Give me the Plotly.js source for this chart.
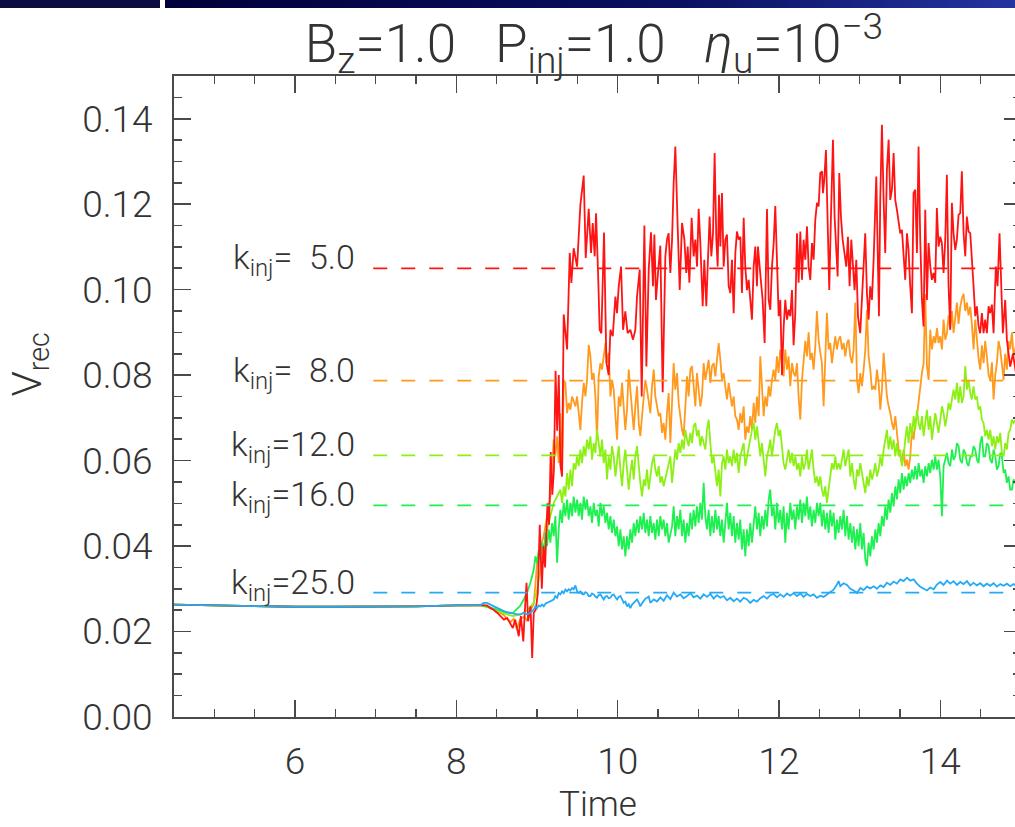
<!DOCTYPE html>
<html>
<head>
<meta charset="utf-8">
<script src="https://cdn.plot.ly/plotly-3.0.1.min.js"></script>
<style>
html,body{margin:0;padding:0;background:#fff;overflow:hidden;width:1015px;height:827px;}
#chart{position:absolute;left:0;top:0;width:1022px;height:827px;}
#barL{position:absolute;left:0;top:0;width:160px;height:8px;background:#0c0c42;z-index:5;}
#barR{position:absolute;left:165px;top:0;width:850px;height:8px;background:linear-gradient(to right,#00003a,#0a1060 60%,#2434a0);z-index:5;}
</style>
</head>
<body>
<div id="chart"></div>
<div id="barL"></div><div id="barR"></div>
<script>
// ---- data ----
const baseT = [4.5,5.0,5.5,6.0,6.5,7.0,7.5,8.0,8.3];
const baseV = [0.0263,0.0261,0.0259,0.0258,0.0258,0.0258,0.0259,0.0261,0.0262];

const redT = [8.38,8.42,8.46,8.505,8.547,8.59,8.63,8.67,8.70,8.73,
8.774,8.80,8.83,8.85,8.87,8.89,8.92,8.94,8.96,8.985,
9.01,9.034,9.06,9.08,9.10,9.13,9.15,9.17,9.19,9.21,
9.23,9.25,9.27,9.29,9.31,9.331,9.373,9.406,9.426,9.455,
9.497,9.538,9.579,9.604,9.641,9.670,9.691,9.715,9.732,9.757,
9.777,9.798,9.831,9.860,9.889,9.910,9.939,9.972,9.992,10.013,
10.042,10.067,10.095,10.124,10.157,10.190,10.219,10.240,10.273,10.298,
10.331,10.356,10.385,10.413,10.438,10.455,10.475,10.500,10.529,10.558,
10.591,10.612,10.632,10.653,10.674,10.694,10.715,10.744,10.769,10.798,
10.827,10.851,10.868,10.889,10.917,10.942,10.963,10.984,11.004,11.025,
11.054,11.074,11.099,11.116,11.140,11.161,11.182,11.202,11.223,11.240,
11.256,11.273,11.293,11.314,11.335,11.355,11.376,11.397,11.417,11.438,
11.459,11.479,11.500,11.521,11.541,11.562,11.582,11.603,11.624,11.644,
11.665,11.686,11.706,11.727,11.739,11.760,11.781,11.797,11.822,11.851,
11.872,11.892,11.913,11.934,11.954,11.975,11.996,12.016,12.037,12.058,
12.078,12.099,12.119,12.140,12.161,12.181,12.202,12.223,12.243,12.264,
12.285,12.305,12.326,12.347,12.367,12.388,12.409,12.429,12.450,12.471,
12.491,12.512,12.533,12.545,12.561,12.582,12.603,12.623,12.644,12.669,
12.689,12.710,12.727,12.747,12.768,12.789,12.809,12.834,12.855,12.875,
12.896,12.917,12.937,12.958,12.979,13.007,13.028,13.049,13.069,13.090,
13.111,13.131,13.152,13.173,13.193,13.206,13.222,13.239,13.255,13.276,
13.297,13.317,13.338,13.359,13.379,13.400,13.421,13.441,13.462,13.482,
13.503,13.524,13.544,13.565,13.586,13.606,13.627,13.648,13.668,13.689,
13.710,13.730,13.751,13.772,13.792,13.813,13.834,13.854,13.875,13.895,
13.916,13.937,13.957,13.978,13.999,14.019,14.040,14.061,14.081,14.102,
14.123,14.143,14.164,14.185,14.205,14.226,14.247,14.267,14.288,14.309,
14.329,14.350,14.371,14.391,14.412,14.433,14.453,14.474,14.494,14.515,
14.536,14.556,14.577,14.598,14.618,14.639,14.660,14.688,14.709,14.734,
14.755,14.775,14.804,14.825,14.866,14.90,14.95,15.0];
const redV = [0.0261,0.0255,0.0251,0.0244,0.0236,0.0228,0.0232,0.0216,0.0208,0.0228,
0.0189,0.0236,0.0177,0.0251,0.0314,0.0224,0.0259,0.0138,0.0244,0.0251,
0.0290,0.0450,0.0300,0.0400,0.0350,0.0500,0.0450,0.0620,0.0520,0.0580,
0.0810,0.0670,0.0800,0.0590,0.0563,0.0942,0.0860,0.1086,0.1016,0.1097,
0.1054,0.1199,0.1267,0.1074,0.1189,0.1086,0.1156,0.1078,0.1179,0.1039,
0.0906,0.0898,0.1134,0.0830,0.0800,0.0906,0.0891,0.0984,0.0945,0.1008,
0.1054,0.0906,0.0949,0.0898,0.0906,0.0883,0.0906,0.0984,0.1047,0.0750,
0.1150,0.0820,0.1047,0.1134,0.1008,0.1129,0.0976,0.1039,0.1103,0.0760,
0.1078,0.1118,0.1132,0.1039,0.1117,0.1249,0.1335,0.1148,0.0999,0.1156,
0.1117,0.1039,0.1101,0.1016,0.1168,0.1078,0.1117,0.1054,0.1189,0.1109,
0.0961,0.1070,0.0961,0.1054,0.1171,0.1078,0.1132,0.1320,0.1117,0.1054,
0.1222,0.1101,0.1226,0.1054,0.1117,0.1129,0.1008,0.0992,0.1070,0.0945,
0.1086,0.1136,0.1117,0.1124,0.0992,0.1168,0.1054,0.0999,0.1023,0.0976,
0.0930,0.1054,0.1101,0.1008,0.1101,0.1054,0.1008,0.0976,0.0875,0.1189,
0.0976,0.0953,0.1054,0.1109,0.1196,0.1070,0.0938,0.0976,0.0800,0.0914,
0.0976,0.0930,0.0953,0.0938,0.0999,0.0870,0.0945,0.1132,0.1016,0.1136,
0.1023,0.1117,0.1070,0.1148,0.1054,0.1023,0.1109,0.1070,0.1164,0.1203,
0.1195,0.1273,0.1277,0.1226,0.1257,0.1327,0.1171,0.0999,0.1171,0.1351,
0.1171,0.1070,0.1031,0.1273,0.1171,0.1117,0.1093,0.1054,0.1124,0.1008,
0.1117,0.1039,0.0999,0.1070,0.0938,0.0898,0.0976,0.1039,0.1132,0.0992,
0.0930,0.1008,0.0976,0.1070,0.1226,0.1265,0.1109,0.0938,0.1210,0.1386,
0.1210,0.1086,0.1281,0.1351,0.1210,0.1234,0.1320,0.1210,0.1187,0.1156,
0.1132,0.1140,0.1093,0.1023,0.1132,0.1093,0.1008,0.0945,0.1226,0.1234,
0.1086,0.1335,0.1117,0.0976,0.0914,0.1187,0.0976,0.1109,0.1054,0.1023,
0.1039,0.1016,0.1191,0.1101,0.1124,0.1109,0.1039,0.1117,0.1269,0.1008,
0.0906,0.1203,0.1132,0.1093,0.1117,0.1175,0.1179,0.1277,0.1132,0.1078,
0.1171,0.1136,0.1132,0.1054,0.1008,0.0938,0.0961,0.0914,0.0898,0.0945,
0.0898,0.0930,0.0898,0.0961,0.0945,0.0965,0.0898,0.1054,0.1008,0.1132,
0.1016,0.0898,0.0976,0.0883,0.0820,0.0850,0.0790,0.0800];

const orangeT = [8.34,8.42,8.50,8.59,8.67,8.71,8.75,8.79,8.84,8.88,
8.92,8.96,9.001,9.042,9.083,9.125,9.166,9.187,9.207,9.228,
9.249,9.269,9.290,9.311,9.331,9.352,9.373,9.393,9.414,9.435,
9.455,9.476,9.497,9.517,9.538,9.558,9.579,9.600,9.620,9.641,
9.662,9.682,9.703,9.724,9.744,9.765,9.786,9.806,9.827,9.848,
9.868,9.889,9.910,9.930,9.951,9.972,9.992,10.013,10.034,10.054,
10.075,10.095,10.116,10.137,10.157,10.178,10.199,10.219,10.240,10.261,
10.281,10.302,10.323,10.343,10.364,10.385,10.405,10.426,10.447,10.467,
10.488,10.509,10.529,10.550,10.570,10.591,10.612,10.632,10.653,10.674,
10.694,10.715,10.736,10.756,10.777,10.798,10.818,10.839,10.860,10.880,
10.901,10.921,10.942,10.963,10.983,11.004,11.025,11.045,11.066,11.087,
11.107,11.128,11.149,11.169,11.190,11.211,11.231,11.252,11.273,11.293,
11.314,11.335,11.355,11.376,11.396,11.417,11.438,11.458,11.479,11.500,
11.520,11.541,11.562,11.582,11.603,11.624,11.644,11.665,11.686,11.706,
11.727,11.748,11.768,11.789,11.810,11.830,11.851,11.872,11.892,11.913,
11.933,11.954,11.975,11.995,12.016,12.037,12.057,12.078,12.099,12.119,
12.140,12.161,12.181,12.202,12.223,12.243,12.264,12.285,12.305,12.326,
12.346,12.367,12.388,12.408,12.429,12.450,12.470,12.491,12.512,12.532,
12.553,12.574,12.594,12.615,12.636,12.656,12.677,12.698,12.718,12.739,
12.760,12.781,12.801,12.822,12.843,12.863,12.884,12.905,12.925,12.946,
12.967,12.987,13.008,13.028,13.049,13.070,13.090,13.111,13.132,13.152,
13.173,13.194,13.214,13.235,13.256,13.276,13.297,13.318,13.338,13.359,
13.380,13.400,13.421,13.442,13.462,13.483,13.503,13.524,13.545,13.565,
13.586,13.607,13.627,13.648,13.669,13.689,13.710,13.731,13.751,13.772,
13.793,13.813,13.834,13.855,13.875,13.896,13.917,13.937,13.958,13.978,
13.999,14.020,14.040,14.061,14.082,14.102,14.123,14.144,14.164,14.185,
14.206,14.226,14.247,14.268,14.288,14.309,14.330,14.350,14.371,14.391,
14.412,14.433,14.453,14.474,14.495,14.515,14.536,14.556,14.577,14.598,
14.619,14.640,14.660,14.681,14.701,14.722,14.743,14.763,14.784,14.804,
14.825,14.846,14.866,14.887,14.908,14.95,15.0];
const orangeV = [0.0262,0.0255,0.0248,0.0238,0.0222,0.0230,0.0205,0.0228,0.0235,0.0225,
0.0250,0.0265,0.0360,0.0400,0.0423,0.0470,0.0516,0.0579,0.0649,0.0610,
0.0657,0.0594,0.0711,0.0563,0.0789,0.0782,0.0711,0.0735,0.0719,0.0750,
0.0739,0.0727,0.0750,0.0704,0.0672,0.0735,0.0782,0.0750,0.0789,0.0871,
0.0844,0.0789,0.0805,0.0750,0.0649,0.0797,0.0828,0.0813,0.0844,0.0875,
0.0828,0.0852,0.0750,0.0789,0.0766,0.0704,0.0649,0.0750,0.0727,0.0782,
0.0735,0.0672,0.0719,0.0813,0.0766,0.0719,0.0672,0.0727,0.0774,0.0688,
0.0657,0.0704,0.0750,0.0789,0.0766,0.0735,0.0711,0.0774,0.0813,0.0750,
0.0727,0.0704,0.0711,0.0665,0.0688,0.0649,0.0711,0.0758,0.0641,0.0750,
0.0828,0.0766,0.0805,0.0735,0.0704,0.0672,0.0657,0.0735,0.0797,0.0750,
0.0813,0.0821,0.0782,0.0727,0.0805,0.0766,0.0727,0.0750,0.0828,0.0789,
0.0813,0.0836,0.0782,0.0821,0.0828,0.0797,0.0836,0.0875,0.0836,0.0789,
0.0805,0.0766,0.0743,0.0782,0.0758,0.0727,0.0750,0.0704,0.0696,0.0672,
0.0711,0.0688,0.0727,0.0649,0.0680,0.0665,0.0704,0.0672,0.0735,0.0688,
0.0750,0.0704,0.0844,0.0766,0.0704,0.0750,0.0727,0.0774,0.0750,0.0789,
0.0813,0.0789,0.0844,0.0805,0.0860,0.0828,0.0797,0.0860,0.0813,0.0844,
0.0774,0.0828,0.0805,0.0797,0.0828,0.0750,0.0696,0.0789,0.0828,0.0880,
0.0844,0.0900,0.0836,0.0852,0.0813,0.0867,0.0950,0.0883,0.0852,0.0828,
0.0727,0.0860,0.0946,0.0860,0.0875,0.0828,0.0867,0.0891,0.0860,0.0883,
0.0891,0.0860,0.0875,0.0844,0.0875,0.0883,0.0844,0.0828,0.0860,0.0970,
0.0789,0.0758,0.0805,0.0774,0.0813,0.0860,0.0953,0.0844,0.0813,0.0766,
0.0774,0.0766,0.0813,0.0782,0.0719,0.0766,0.0852,0.0797,0.0750,0.0727,
0.0711,0.0688,0.0672,0.0704,0.0657,0.0626,0.0610,0.0594,0.0626,0.0587,
0.0602,0.0579,0.0610,0.0672,0.0649,0.0688,0.0704,0.0743,0.0774,0.0805,
0.0828,0.0990,0.0821,0.0789,0.0906,0.0860,0.0891,0.0875,0.0910,0.0875,
0.0891,0.0860,0.0930,0.0883,0.0899,0.0940,0.0910,0.0950,0.0899,0.0930,
0.0970,0.0920,0.0960,0.0980,0.0990,0.0950,0.0970,0.0940,0.0960,0.0920,
0.0860,0.0930,0.0875,0.0840,0.0813,0.0870,0.0828,0.0880,0.0844,0.0800,
0.0789,0.0830,0.0743,0.0800,0.0828,0.0880,0.0860,0.0820,0.0789,0.0850,
0.0813,0.0880,0.0860,0.0900,0.0844,0.0880,0.0860];

const ygreenT = [8.40,8.50,8.60,8.70,8.80,8.88,8.960,9.001,9.042,9.083,
9.125,9.166,9.207,9.249,9.290,9.311,9.331,9.352,9.373,9.393,
9.414,9.435,9.455,9.476,9.497,9.517,9.538,9.558,9.579,9.600,
9.620,9.641,9.662,9.682,9.703,9.724,9.744,9.765,9.786,9.806,
9.827,9.848,9.868,9.889,9.910,9.930,9.951,9.972,9.992,10.013,
10.034,10.054,10.075,10.095,10.116,10.137,10.157,10.178,10.199,10.219,
10.240,10.261,10.281,10.302,10.323,10.343,10.364,10.385,10.405,10.426,
10.447,10.467,10.488,10.509,10.529,10.550,10.570,10.591,10.612,10.632,
10.653,10.674,10.694,10.715,10.736,10.756,10.777,10.798,10.818,10.839,
10.860,10.880,10.901,10.921,10.942,10.963,10.983,11.004,11.025,11.045,
11.066,11.087,11.107,11.128,11.149,11.169,11.190,11.211,11.231,11.252,
11.273,11.293,11.314,11.335,11.355,11.376,11.396,11.417,11.438,11.458,
11.479,11.500,11.520,11.541,11.562,11.582,11.603,11.624,11.644,11.665,
11.686,11.706,11.727,11.748,11.768,11.789,11.810,11.830,11.851,11.872,
11.892,11.913,11.933,11.954,11.975,11.995,12.016,12.037,12.057,12.078,
12.099,12.119,12.140,12.161,12.181,12.202,12.223,12.243,12.264,12.285,
12.305,12.326,12.346,12.367,12.388,12.408,12.429,12.450,12.470,12.491,
12.512,12.532,12.553,12.574,12.594,12.615,12.636,12.656,12.677,12.698,
12.718,12.739,12.760,12.781,12.801,12.822,12.843,12.863,12.884,12.905,
12.925,12.946,12.967,12.987,13.008,13.028,13.049,13.070,13.090,13.111,
13.132,13.152,13.173,13.194,13.214,13.235,13.256,13.276,13.297,13.318,
13.338,13.359,13.380,13.400,13.421,13.442,13.462,13.483,13.503,13.524,
13.545,13.565,13.586,13.607,13.627,13.648,13.669,13.689,13.710,13.731,
13.751,13.772,13.793,13.813,13.834,13.855,13.875,13.896,13.917,13.937,
13.958,13.978,13.999,14.020,14.040,14.061,14.082,14.102,14.123,14.144,
14.164,14.185,14.206,14.226,14.247,14.268,14.288,14.309,14.330,14.350,
14.371,14.391,14.412,14.433,14.453,14.474,14.495,14.515,14.536,14.556,
14.577,14.598,14.619,14.640,14.660,14.681,14.701,14.722,14.743,14.763,
14.784,14.804,14.825,14.846,14.866,14.887,14.908,14.95,15.0];
const ygreenV = [0.0256,0.0250,0.0242,0.0236,0.0240,0.0250,0.0267,0.0298,0.0345,0.0392,
0.0439,0.0470,0.0501,0.0516,0.0532,0.0501,0.0540,0.0516,0.0571,0.0532,
0.0579,0.0540,0.0594,0.0579,0.0610,0.0587,0.0626,0.0594,0.0634,0.0610,
0.0649,0.0626,0.0657,0.0602,0.0641,0.0618,0.0672,0.0641,0.0610,0.0649,
0.0594,0.0626,0.0556,0.0610,0.0579,0.0634,0.0610,0.0563,0.0594,0.0634,
0.0579,0.0540,0.0594,0.0626,0.0579,0.0532,0.0571,0.0602,0.0556,0.0610,
0.0634,0.0579,0.0548,0.0516,0.0556,0.0540,0.0579,0.0532,0.0563,0.0594,
0.0610,0.0579,0.0563,0.0587,0.0548,0.0563,0.0540,0.0556,0.0579,0.0594,
0.0610,0.0548,0.0587,0.0626,0.0602,0.0641,0.0618,0.0649,0.0626,0.0672,
0.0649,0.0634,0.0665,0.0641,0.0680,0.0688,0.0657,0.0672,0.0634,0.0657,
0.0641,0.0626,0.0672,0.0696,0.0641,0.0594,0.0610,0.0571,0.0540,0.0579,
0.0516,0.0594,0.0610,0.0579,0.0626,0.0594,0.0610,0.0587,0.0626,0.0594,
0.0618,0.0571,0.0610,0.0626,0.0641,0.0587,0.0610,0.0634,0.0657,0.0672,
0.0688,0.0649,0.0680,0.0634,0.0610,0.0641,0.0594,0.0563,0.0610,0.0626,
0.0649,0.0610,0.0641,0.0672,0.0688,0.0657,0.0672,0.0634,0.0594,0.0579,
0.0610,0.0626,0.0594,0.0618,0.0587,0.0610,0.0579,0.0594,0.0563,0.0610,
0.0579,0.0594,0.0626,0.0579,0.0602,0.0626,0.0579,0.0548,0.0563,0.0540,
0.0563,0.0532,0.0516,0.0540,0.0501,0.0532,0.0563,0.0594,0.0579,0.0610,
0.0579,0.0594,0.0579,0.0610,0.0626,0.0587,0.0610,0.0626,0.0563,0.0594,
0.0556,0.0532,0.0579,0.0563,0.0594,0.0571,0.0540,0.0524,0.0563,0.0540,
0.0579,0.0556,0.0571,0.0594,0.0563,0.0579,0.0610,0.0587,0.0626,0.0649,
0.0672,0.0626,0.0657,0.0626,0.0649,0.0610,0.0641,0.0610,0.0626,0.0587,
0.0610,0.0649,0.0680,0.0641,0.0688,0.0657,0.0704,0.0672,0.0719,0.0688,
0.0672,0.0704,0.0657,0.0688,0.0719,0.0672,0.0704,0.0649,0.0680,0.0711,
0.0688,0.0665,0.0696,0.0727,0.0711,0.0680,0.0704,0.0735,0.0719,0.0750,
0.0766,0.0743,0.0782,0.0735,0.0774,0.0735,0.0750,0.0821,0.0766,0.0789,
0.0758,0.0743,0.0774,0.0743,0.0750,0.0719,0.0727,0.0696,0.0688,0.0657,
0.0672,0.0649,0.0672,0.0634,0.0657,0.0626,0.0657,0.0641,0.0665,0.0618,
0.0610,0.0641,0.0626,0.0665,0.0672,0.0696,0.0688,0.0700,0.0690];

const greenT = [8.40,8.50,8.60,8.70,8.79,8.836,8.877,8.918,8.960,8.980,
9.001,9.022,9.042,9.063,9.083,9.104,9.125,9.145,9.166,9.187,
9.207,9.228,9.249,9.269,9.290,9.311,9.331,9.352,9.373,9.393,
9.414,9.435,9.455,9.476,9.497,9.517,9.538,9.558,9.579,9.600,
9.620,9.641,9.662,9.682,9.703,9.724,9.744,9.765,9.786,9.806,
9.827,9.848,9.868,9.889,9.910,9.930,9.951,9.972,9.992,10.013,
10.034,10.054,10.075,10.095,10.116,10.137,10.157,10.178,10.199,10.219,
10.240,10.261,10.281,10.302,10.323,10.343,10.364,10.385,10.405,10.426,
10.447,10.467,10.488,10.509,10.529,10.550,10.570,10.591,10.612,10.632,
10.674,10.694,10.715,10.736,10.756,10.777,10.798,10.818,10.839,10.860,
10.880,10.901,10.921,10.942,10.963,10.983,11.004,11.025,11.045,11.066,
11.087,11.107,11.128,11.149,11.169,11.190,11.211,11.231,11.252,11.273,
11.293,11.314,11.335,11.355,11.376,11.396,11.417,11.438,11.458,11.479,
11.500,11.520,11.541,11.562,11.582,11.603,11.624,11.644,11.665,11.686,
11.706,11.727,11.748,11.768,11.789,11.810,11.830,11.851,11.872,11.892,
11.913,11.933,11.954,11.975,11.995,12.016,12.037,12.057,12.078,12.099,
12.119,12.140,12.161,12.181,12.202,12.223,12.243,12.264,12.285,12.305,
12.326,12.346,12.367,12.388,12.408,12.429,12.450,12.470,12.491,12.512,
12.532,12.553,12.574,12.594,12.615,12.636,12.656,12.677,12.698,12.718,
12.739,12.760,12.781,12.801,12.822,12.843,12.863,12.884,12.905,12.925,
12.946,12.967,12.987,13.008,13.028,13.049,13.070,13.090,13.111,13.132,
13.152,13.173,13.194,13.214,13.235,13.256,13.276,13.297,13.318,13.338,
13.359,13.380,13.400,13.421,13.442,13.462,13.483,13.503,13.524,13.545,
13.565,13.586,13.607,13.627,13.648,13.669,13.689,13.710,13.731,13.751,
13.772,13.793,13.813,13.834,13.855,13.875,13.896,13.917,13.937,13.958,
13.978,13.999,14.020,14.040,14.061,14.082,14.102,14.123,14.144,14.164,
14.185,14.206,14.226,14.247,14.268,14.288,14.309,14.330,14.350,14.371,
14.391,14.412,14.433,14.453,14.474,14.495,14.515,14.536,14.556,14.577,
14.598,14.619,14.640,14.660,14.681,14.701,14.722,14.743,14.763,14.784,
14.804,14.825,14.846,14.866,14.887,14.908,14.95,15.0];
const greenV = [0.0258,0.0252,0.0246,0.0243,0.0260,0.0275,0.0291,0.0314,0.0345,0.0376,
0.0361,0.0392,0.0368,0.0408,0.0384,0.0431,0.0400,0.0439,0.0408,0.0454,
0.0423,0.0470,0.0361,0.0439,0.0485,0.0454,0.0501,0.0470,0.0509,0.0462,
0.0501,0.0470,0.0516,0.0478,0.0509,0.0470,0.0501,0.0462,0.0516,0.0485,
0.0509,0.0470,0.0493,0.0454,0.0501,0.0470,0.0485,0.0446,0.0501,0.0470,
0.0493,0.0454,0.0478,0.0439,0.0470,0.0431,0.0462,0.0423,0.0446,0.0400,
0.0439,0.0392,0.0423,0.0376,0.0423,0.0392,0.0439,0.0408,0.0454,0.0423,
0.0462,0.0431,0.0470,0.0439,0.0478,0.0431,0.0462,0.0423,0.0470,0.0431,
0.0454,0.0415,0.0462,0.0423,0.0470,0.0439,0.0462,0.0423,0.0454,0.0408,
0.0446,0.0493,0.0423,0.0470,0.0439,0.0485,0.0423,0.0462,0.0408,0.0454,
0.0423,0.0478,0.0439,0.0485,0.0446,0.0493,0.0454,0.0501,0.0462,0.0548,
0.0470,0.0439,0.0485,0.0423,0.0470,0.0431,0.0485,0.0439,0.0470,0.0423,
0.0462,0.0408,0.0454,0.0501,0.0439,0.0478,0.0423,0.0470,0.0408,0.0454,
0.0415,0.0462,0.0392,0.0439,0.0376,0.0439,0.0400,0.0454,0.0408,0.0462,
0.0493,0.0439,0.0478,0.0423,0.0470,0.0439,0.0485,0.0446,0.0509,0.0532,
0.0470,0.0493,0.0439,0.0501,0.0454,0.0485,0.0439,0.0493,0.0408,0.0478,
0.0439,0.0501,0.0462,0.0485,0.0439,0.0493,0.0462,0.0509,0.0454,0.0501,
0.0470,0.0516,0.0462,0.0493,0.0446,0.0485,0.0454,0.0501,0.0470,0.0501,
0.0446,0.0485,0.0439,0.0478,0.0431,0.0485,0.0446,0.0478,0.0415,0.0462,
0.0431,0.0470,0.0439,0.0485,0.0423,0.0470,0.0415,0.0454,0.0408,0.0446,
0.0392,0.0439,0.0400,0.0454,0.0392,0.0431,0.0369,0.0353,0.0408,0.0376,
0.0423,0.0392,0.0439,0.0408,0.0454,0.0423,0.0470,0.0446,0.0493,0.0462,
0.0509,0.0478,0.0524,0.0493,0.0540,0.0509,0.0556,0.0524,0.0571,0.0532,
0.0563,0.0540,0.0571,0.0548,0.0579,0.0556,0.0587,0.0556,0.0594,0.0563,
0.0579,0.0548,0.0587,0.0563,0.0594,0.0571,0.0602,0.0579,0.0610,0.0579,
0.0602,0.0563,0.0470,0.0587,0.0602,0.0618,0.0594,0.0587,0.0626,0.0602,
0.0610,0.0641,0.0634,0.0602,0.0594,0.0626,0.0618,0.0594,0.0587,0.0610,
0.0610,0.0634,0.0626,0.0602,0.0594,0.0641,0.0657,0.0610,0.0610,0.0641,
0.0634,0.0602,0.0594,0.0626,0.0610,0.0579,0.0587,0.0618,0.0610,0.0571,
0.0579,0.0548,0.0563,0.0532,0.0532,0.0556,0.0540,0.0550];

const blueT = [8.340,8.381,8.423,8.464,8.505,8.547,8.588,8.629,8.670,8.712,
8.753,8.794,8.836,8.877,8.918,8.960,8.980,9.001,9.021,9.042,
9.063,9.084,9.104,9.125,9.146,9.166,9.187,9.207,9.228,9.249,
9.270,9.290,9.311,9.331,9.352,9.373,9.393,9.414,9.435,9.455,
9.476,9.497,9.517,9.538,9.558,9.579,9.600,9.620,9.641,9.662,
9.682,9.703,9.724,9.744,9.765,9.786,9.806,9.827,9.848,9.868,
9.889,9.910,9.930,9.951,9.972,9.992,10.013,10.034,10.054,10.075,
10.095,10.116,10.137,10.157,10.178,10.199,10.219,10.240,10.261,10.281,
10.302,10.323,10.343,10.364,10.385,10.405,10.447,10.488,10.529,10.570,
10.612,10.653,10.694,10.736,10.777,10.818,10.860,10.901,10.942,10.983,
11.025,11.066,11.107,11.149,11.190,11.231,11.273,11.314,11.355,11.396,
11.438,11.479,11.520,11.562,11.603,11.644,11.686,11.727,11.768,11.810,
11.851,11.892,11.933,11.975,12.016,12.057,12.099,12.140,12.181,12.223,
12.264,12.305,12.346,12.388,12.429,12.470,12.512,12.553,12.594,12.636,
12.677,12.718,12.739,12.760,12.801,12.843,12.884,12.925,12.967,13.008,
13.049,13.090,13.132,13.173,13.214,13.256,13.297,13.338,13.380,13.421,
13.462,13.503,13.545,13.586,13.627,13.669,13.710,13.751,13.793,13.834,
13.875,13.917,13.958,13.999,14.040,14.082,14.123,14.164,14.206,14.247,
14.288,14.330,14.371,14.412,14.453,14.495,14.536,14.577,14.619,14.660,
14.701,14.743,14.784,14.825,14.866,14.908,14.95,15.0];
const blueV = [0.0267,0.0267,0.0263,0.0259,0.0255,0.0251,0.0248,0.0245,0.0244,0.0242,
0.0240,0.0240,0.0244,0.0240,0.0244,0.0251,0.0259,0.0255,0.0261,0.0259,
0.0263,0.0259,0.0265,0.0267,0.0270,0.0271,0.0273,0.0275,0.0283,0.0279,
0.0290,0.0287,0.0294,0.0290,0.0298,0.0294,0.0299,0.0296,0.0302,0.0299,
0.0308,0.0294,0.0290,0.0294,0.0288,0.0287,0.0292,0.0290,0.0283,0.0283,
0.0289,0.0287,0.0282,0.0279,0.0285,0.0287,0.0281,0.0275,0.0282,0.0283,
0.0278,0.0279,0.0285,0.0287,0.0280,0.0275,0.0281,0.0283,0.0276,0.0267,
0.0270,0.0259,0.0264,0.0255,0.0263,0.0267,0.0272,0.0275,0.0268,0.0259,
0.0266,0.0271,0.0277,0.0279,0.0282,0.0267,0.0275,0.0270,0.0280,0.0272,
0.0285,0.0276,0.0291,0.0282,0.0287,0.0278,0.0283,0.0290,0.0280,0.0284,
0.0277,0.0287,0.0281,0.0288,0.0277,0.0285,0.0279,0.0283,0.0273,0.0279,
0.0271,0.0277,0.0270,0.0279,0.0275,0.0267,0.0274,0.0270,0.0278,0.0283,
0.0277,0.0285,0.0288,0.0280,0.0287,0.0281,0.0289,0.0284,0.0290,0.0283,
0.0289,0.0281,0.0288,0.0283,0.0287,0.0279,0.0284,0.0281,0.0287,0.0292,
0.0298,0.0310,0.0318,0.0306,0.0313,0.0309,0.0300,0.0296,0.0290,0.0302,
0.0297,0.0305,0.0301,0.0306,0.0300,0.0308,0.0304,0.0314,0.0309,0.0317,
0.0312,0.0322,0.0318,0.0326,0.0319,0.0322,0.0312,0.0305,0.0300,0.0296,
0.0303,0.0299,0.0310,0.0316,0.0309,0.0319,0.0312,0.0318,0.0309,0.0316,
0.0311,0.0318,0.0308,0.0314,0.0308,0.0313,0.0306,0.0312,0.0307,0.0313,
0.0305,0.0311,0.0307,0.0312,0.0306,0.0311,0.0306,0.0309];

// reference (dashed) levels and their labels
const kinjLabels = ['k<sub>inj</sub>=\u00a0\u00a05.0','k<sub>inj</sub>=\u00a0\u00a08.0','k<sub>inj</sub>=12.0','k<sub>inj</sub>=16.0','k<sub>inj</sub>=25.0'];
const refLevels = [0.105, 0.0787, 0.0612, 0.0495, 0.0291];
const refStart = 6.97, refEnd = 15.0;
const labelX = 6.77;
const xTitle = 'Time', yTitle = 'V<sub>rec</sub>';
const chartTitle = 'B<sub>z</sub>=1.0\u00a0\u00a0\u00a0P<sub>inj</sub>=1.0\u00a0\u00a0\u00a0<i>η</i><sub>u</sub>=10<sup>−3</sup>';

// ---- styles ----
const colRed='#ff1414', colOrange='#ff9a1e', colYG='#8cf014', colGreen='#1ef050', colBlue='#25aaf5';
const refColors = [colRed, colOrange, colYG, colGreen, colBlue];
const FONT = 'Roboto, "Liberation Sans", sans-serif';
const TXT = '#333333', AX = '#4a4a4a';

function series(t, v, c){
  return {x: baseT.concat(t), y: baseV.concat(v), type:'scatter', mode:'lines',
          line:{color:c, width:1.8}, hoverinfo:'skip'};
}
const traces = [
  series(orangeT, orangeV, colOrange),
  series(ygreenT, ygreenV, colYG),
  series(greenT, greenV, colGreen),
  series(redT, redV, colRed),
  series(blueT, blueV, colBlue)
];
refLevels.forEach((lv, i) => {
  traces.push({x:[refStart, refEnd], y:[lv, lv], type:'scatter', mode:'lines',
    line:{color:refColors[i], width:1.7, dash:'14px,14px'}, hoverinfo:'skip'});
});

const annotations = refLevels.map((lv, i) => ({
  x: labelX, y: lv, xref:'x', yref:'y', text: kinjLabels[i], showarrow:false,
  xanchor:'right', yanchor:'bottom', yshift:-16,
  font:{family:FONT, size:34, color:TXT, weight:300}
}));
// axis titles placed as annotations so they sit exactly where the reference has them
annotations.push({
  x:0.5, y:-0.1365, xref:'paper', yref:'paper', text:xTitle, showarrow:false,
  xanchor:'center', yanchor:'middle', font:{family:FONT, size:35, color:TXT, weight:300}
});
annotations.push({
  x:-0.170, y:0.55, xref:'paper', yref:'paper', text:yTitle, showarrow:false, textangle:-90,
  xanchor:'center', yanchor:'middle', font:{family:FONT, size:41, color:TXT, weight:300}
});

const axisCommon = {
  showgrid:false, zeroline:false, showline:true, linecolor:AX, linewidth:2,
  mirror:'ticks', ticks:'inside', ticklen:17, tickwidth:1.6, tickcolor:AX,
  tickfont:{family:FONT, size:37, color:TXT, weight:300}
};

const layout = {
  width:1022, height:827,
  margin:{l:174, r:1, t:76, b:110},
  paper_bgcolor:'#ffffff', plot_bgcolor:'#ffffff',
  showlegend:false,
  font:{family:FONT, color:TXT, weight:300},
  title:{
    text: chartTitle,
    xref:'container', yref:'container', x:594/1022, y:1-43/827, xanchor:'center', yanchor:'middle',
    font:{family:FONT, size:53, color:TXT, weight:300}
  },
  xaxis: Object.assign({}, axisCommon, {
    range:[4.5, 15], tick0:0, dtick:2, ticklabelstandoff:11,
    minor:{dtick:0.5, ticks:'inside', ticklen:8, tickwidth:1.6, tickcolor:AX}
  }),
  yaxis: Object.assign({}, axisCommon, {
    range:[0, 0.15], tick0:0, dtick:0.02, tickformat:'.2f', ticklabelstandoff:12,
    minor:{dtick:0.005, ticks:'inside', ticklen:8, tickwidth:1.6, tickcolor:AX}
  }),
  annotations: annotations
};

Plotly.newPlot('chart', traces, layout, {displayModeBar:false, staticPlot:true});
</script>
</body>
</html>
